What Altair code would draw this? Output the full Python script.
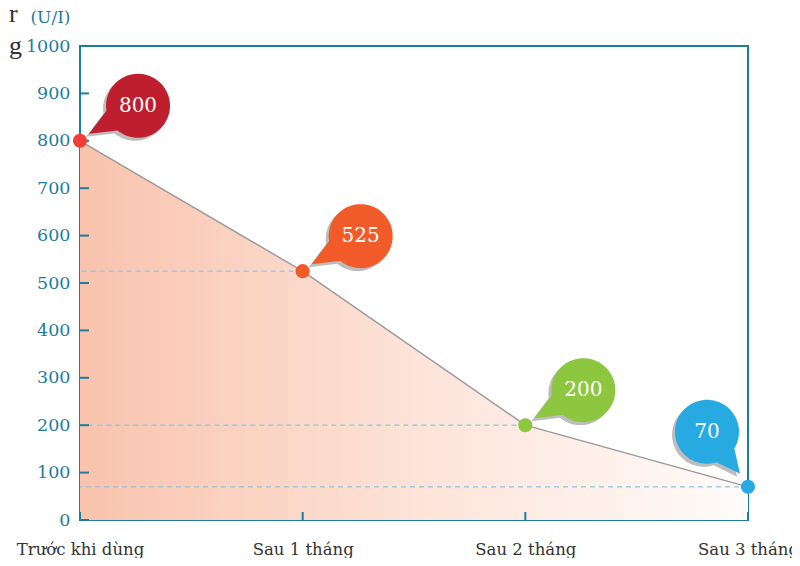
import math
import altair as alt
import pandas as pd

# ---- data ----
cats = ["Trước khi dùng", "Sau 1 tháng", "Sau 2 tháng", "Sau 3 tháng"]
values = [800, 525, 200, 70]
labels = ["800", "525", "200", "70"]
yticks = list(range(0, 1001, 100))
title_fragment = ["r", "g"]

point_colors = ["#ee4036", "#f15a29", "#8dc63f", "#27aae1"]
bubble_colors = ["#be1e2d", "#f15a29", "#8dc63f", "#27aae1"]
TEAL = "#1d7d9c"
FONT = "DejaVu Serif"


def bubble_path(cx, cy, tx, ty, r=32.0, delta=0.36, n=64):
    th = math.atan2(ty - cy, tx - cx)
    a0 = th + delta
    a1 = th - delta + 2 * math.pi
    pts = [(tx, ty)]
    for i in range(n + 1):
        a = a0 + (a1 - a0) * i / n
        pts.append((cx + r * math.cos(a), cy + r * math.sin(a)))
    return "M " + " L ".join(f"{x:.2f} {y:.2f}" for x, y in pts) + " Z"


# speech-bubble shapes (pixel units, size=4 -> scale 1), relative to the point
up_right = bubble_path(58, -35, 9, -7)
up_left = bubble_path(-41, -55, -8, -13)
shapes = [up_right, up_right, up_right, up_left]

df = pd.DataFrame({"cat": cats, "val": values, "lab": labels})
ydf = pd.DataFrame({"val": yticks})
fdf = pd.DataFrame({"t": [title_fragment]})

W, H = 668, 474

xscale = alt.Scale(type="point", domain=cats, padding=0)
yscale = alt.Scale(domain=[0, 1000], nice=False, zero=True)

xaxis = alt.Axis(title=None, domain=False, ticks=False, grid=False,
                 labelPadding=21, labelFontSize=16.5, labelFont=FONT,
                 labelColor="#333333", labelAngle=0, labelFlush=False,
                 labelOverlap=False, labelBound=False)
yaxis = alt.Axis(title="(U/I)", values=yticks, format="d", domain=False, ticks=False,
                 grid=False, labelPadding=10, labelFontSize=17.5, labelFont=FONT,
                 labelColor=TEAL,
                 titleAngle=0, titleAlign="right", titleBaseline="middle",
                 titleX=-10, titleY=-29, titleFont=FONT, titleFontSize=17,
                 titleFontWeight="normal", titleColor=TEAL)

X = alt.X("cat:N", scale=xscale, axis=xaxis, sort=cats)
Y = alt.Y("val:Q", scale=yscale, axis=yaxis)

base = alt.Chart(df)

area = base.mark_area(
    color=alt.Gradient(
        gradient="linear",
        stops=[alt.GradientStop(offset=0, color="#f9c3ad"),
               alt.GradientStop(offset=0.5, color="#fde3d8"),
               alt.GradientStop(offset=1, color="#fffbf9")],
        x1=0, x2=1, y1=0, y2=0),
    opacity=1,
).encode(x=X, y=Y)

dashed = base.mark_rule(color="#8ec5dd", strokeDash=[5, 4], strokeWidth=1.3).encode(
    x=X, x2=alt.value(0), y=Y)

line = base.mark_line(color="#9a9a9a", strokeWidth=1.4).encode(x=X, y=Y)

ytick_marks = alt.Chart(ydf).mark_rule(color=TEAL, strokeWidth=2).encode(
    y=Y, x=alt.value(0), x2=alt.value(9))

xtick_marks = base.mark_rule(color=TEAL, strokeWidth=2).encode(
    x=X, y=alt.value(H - 8), y2=alt.value(H))

points = base.mark_circle(size=200, opacity=1).encode(
    x=X, y=Y,
    color=alt.Color("cat:N", scale=alt.Scale(domain=cats, range=point_colors), legend=None))

S = alt.Shape("cat:N", scale=alt.Scale(domain=cats, range=shapes), legend=None)

shadow = base.mark_point(filled=True, size=4, opacity=1, color="#bdbdbd",
                         strokeWidth=0, xOffset=-3, yOffset=3).encode(x=X, y=Y, shape=S)

bubbles = base.mark_point(filled=True, size=4, opacity=1, strokeWidth=0).encode(
    x=X, y=Y, shape=S,
    color=alt.Color("cat:N", scale=alt.Scale(domain=cats, range=bubble_colors), legend=None))

text_a = base.transform_filter(
    alt.FieldOneOfPredicate(field="cat", oneOf=cats[:3])
).mark_text(dx=58, dy=-35, color="white", fontSize=20, font=FONT,
            align="center", baseline="middle").encode(x=X, y=Y, text="lab:N")

text_b = base.transform_filter(
    alt.FieldOneOfPredicate(field="cat", oneOf=cats[3:])
).mark_text(dx=-41, dy=-55, color="white", fontSize=20, font=FONT,
            align="center", baseline="middle").encode(x=X, y=Y, text="lab:N")

frag = alt.Chart(fdf).mark_text(align="left", baseline="alphabetic", lineHeight=32,
                                fontSize=26, font="Liberation Serif",
                                color="#333333").encode(
    x=alt.value(-71), y=alt.value(-24), text="t")

chart = alt.layer(
    area, dashed, line, ytick_marks, xtick_marks, points, shadow, bubbles,
    text_a, text_b, frag
).resolve_scale(color="independent").properties(
    width=W, height=H,
    autosize=alt.AutoSizeParams(type="none"),
    padding={"left": 72, "top": 38, "right": 44, "bottom": 38},
).configure_view(stroke=TEAL, strokeWidth=2)

chart.save("out.html", embed_options={"renderer": "svg", "actions": False})
